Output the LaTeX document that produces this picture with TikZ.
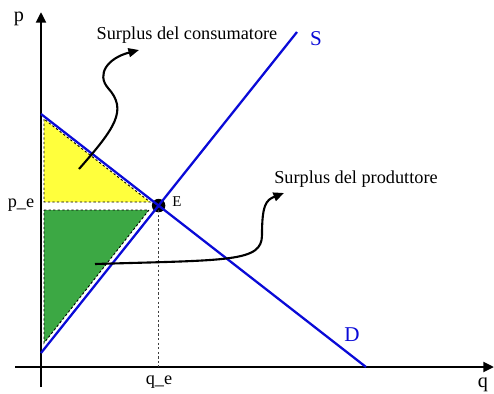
\documentclass[tikz,border=0pt]{standalone}
\usepackage{fontspec}
\setmainfont{Liberation Serif}
\usetikzlibrary{arrows.meta}
\definecolor{cblue}{RGB}{10,10,215}
\definecolor{cyellow}{RGB}{255,255,60}
\definecolor{cgreen}{RGB}{60,168,68}

\begin{document}
\begin{tikzpicture}[x=0.02cm, y=-0.02cm, every node/.style={font=\fontsize{10.4}{12}\selectfont, inner sep=1pt},
	axis/.style={line width=1.6pt, -{Triangle[length=6pt,width=5.5pt]}},
	curve/.style={cblue, line width=1.3pt},
	curvelabel/.style={font=\fontsize{12}{14}\selectfont, text=cblue, anchor=base},
	pointer/.style={line width=1.2pt, -{Triangle[length=6pt,width=5pt]}},
	border/.style={line width=0.5pt, dash pattern=on 1.3pt off 1.3pt}]
	\useasboundingbox (0,0) rectangle (494,393);
	% surplus areas
	\filldraw[fill=cyellow, border] (44,119) -- (44,202) -- (150,202) -- cycle;
	\filldraw[fill=cgreen, border] (44,210) -- (149,210) -- (44,343) -- cycle;
	% axes
	\coordinate (xs) at (15,367); \coordinate (xe) at (494,367);
	\coordinate (ys) at (41,387); \coordinate (ye) at (41,12);
	\draw[axis] (xs) -- (xe);
	\draw[axis] (ys) -- (ye);
	\node[font=\fontsize{11.5}{13}\selectfont, anchor=base] (P) at (19,21) {p};
	\node[font=\fontsize{11.5}{13}\selectfont, anchor=base] (Q) at (483,387) {q};
	% demand and supply
	\coordinate (d1) at (41,114); \coordinate (d2) at (366,367);
	\coordinate (s1) at (41,353); \coordinate (s2) at (297,32);
	\node[circle, fill=black, inner sep=0pt, minimum size=0.27cm] (E) at (intersection of d1--d2 and s1--s2) {};
	\draw[border, black!75] (E.center) -- (E |- xs);
	\draw[curve] (d1) -- (d2);
	\draw[curve] (s1) -- (s2);
	\node[curvelabel] (S) at (316,45) {S};
	\node[curvelabel] (D) at (352,341) {D};
	\node[font=\fontsize{8.5}{10}\selectfont, anchor=base] (Elab) at (177,206) {E};
	\node[anchor=base] (pe) at (21,207) {p\_e};
	\node[anchor=base] (qe) at (159,384) {q\_e};
	% surplus labels
	\node[anchor=base] (cons) at (187,39) {Surplus del consumatore};
	\node[anchor=base] (prod) at (356,183) {Surplus del produttore};
	\coordinate (cs) at (79,169); \coordinate (cstip) at (139,50);
	\coordinate (ps) at (95,264); \coordinate (pstip) at (284,193);
	\draw[pointer] (cs) .. controls (115,128) and (128,110) .. (108,88) .. controls (96,74) and (108,58) .. (cstip);
	\draw[pointer] (ps) .. controls (230,260) and (262,262) .. (262,235) .. controls (262,205) and (266,200) .. (pstip);
\end{tikzpicture}
\end{document}
